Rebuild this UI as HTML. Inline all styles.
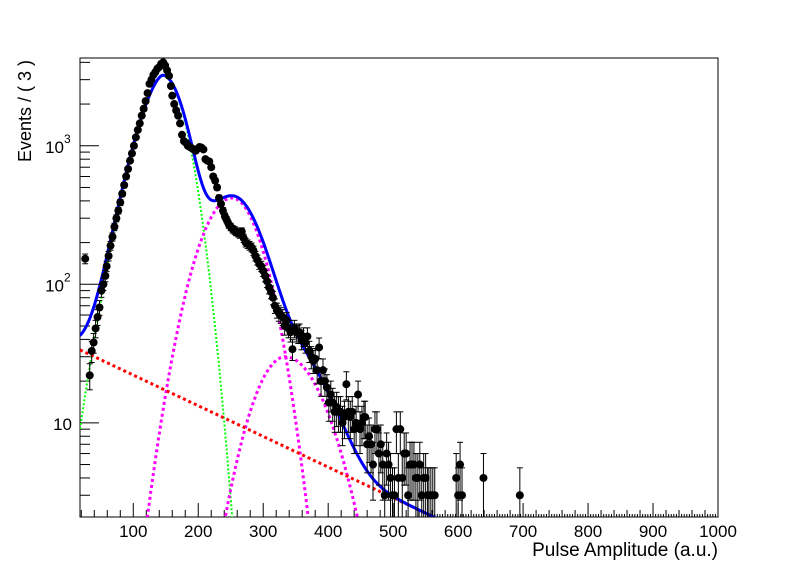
<!DOCTYPE html>
<html><head><meta charset="utf-8"><style>
html,body{margin:0;padding:0;background:#fff;}
svg{display:block;font-family:"Liberation Sans",Arial,sans-serif;}
</style></head><body>
<svg id="chart" width="798" height="576" viewBox="0 0 798 576">
<rect width="798" height="576" fill="#fff"/>
<defs><clipPath id="clip"><rect x="80" y="58" width="638" height="459"/></clipPath></defs>
<g id="frame-g"></g>
<g id="curves" clip-path="url(#clip)"></g>
<g id="points" clip-path="url(#clip)"></g>
<text x="718" y="556" font-size="19" text-anchor="end">Pulse Amplitude (a.u.)</text>
<text transform="translate(31,60) rotate(-90)" font-size="18" text-anchor="end">Events / ( 3 )</text>
</svg>
<script>
const binCenters=[26,33,36,39,42,45,48,51,54,57,
59,62,65,68,71,74,77,80,83,86,89,92,95,98,101,104,107,110,113,116,119,122,125,128,131,134,137,140,143,146,149,152,155,158,
160,163,166,169,172,175,178,181,184,187,190,193,196,199,202,205,208,211,214,217,220,223,226,229,232,235,238,241,244,247,250,253,256,
258,261,264,267,270,273,276,279,282,285,288,291,294,297,300,303,306,309,312,315,318,321,324,327,330,333,336,339,342,345,348,351,354,
356,359,362,365,368,371,374,377,380,383,386,389,392,395,398,401,404,407,410,413,416,419,422,425,428,431,434,437,440,443,446,449,452,455,
457,460,463,466,469,472,475,478,481,484,487,490,493,496,499,502,505,508,511,514,517,520,523,526,529,532,535,538,541,544,547,550,553,
555,558,561,564,597,600,603,606,639,695];
const counts=[153,22,33,38,48,58,68,90,100,115,135,160,190,220,260,300,340,390,450,520,600,680,780,880,1000,1150,1300,1450,1650,1850,2100,2400,2800,3000,3250,3400,3600,3700,3900,4000,3800,3500,3200,2700,2300,2000,1800,1650,1450,1200,1080,1050,1000,980,960,940,920,950,980,970,940,800,780,770,700,600,560,500,420,380,340,310,290,270,260,250,245,240,235,230,240,215,200,195,190,185,175,160,150,140,135,125,115,105,95,88,80,70,65,62,60,58,50,55,48,45,34,48,45,44,45,40,42,38,42,33,30,28,29,24,35,20,24,20,18,14,16,14,12,13,12,12,10,11,19,12,11,12,9,10,16,9,10,11,11,7,8,7,5,9,9,6,7,5,3,6,5,4,3,3,9,4,9,4,6,6,3,5,5,5,4,4,5,3,4,4,3,3,3,3,3,4,3,5,3,4,3];
// main peak: [amplitude, mean, leftCoef, leftPower, sigmaRight]
const greenPars=[3200,145,0.00322,1.55,28];
// secondary peaks: [amplitude, mean, sigmaLeft, sigmaRight]
const mag1Pars=[420,252,40,36];
const mag2Pars=[30,334,40,48];
// background: [amplitude at x0, x0, slope]
const bkgPars=[33.6,18,0.0051];
const xTicks=[100,200,300,400,500,600,700,800,900,1000];
const yTicks=[10,100,1000];
const yTickLabels=["10","10","10"];
const yTickExps=["","2","3"];

const NS="http://www.w3.org/2000/svg";
const X0=80,X1=718,Y0=58,Y1=517;
const xMin=18,xMax=1000;
const yMin=Math.log10(2.09),yMax=Math.log10(4300);
const sx=v=>X0+(v-xMin)/(xMax-xMin)*(X1-X0);
const sy=v=>Y1-(Math.log10(v)-yMin)/(yMax-yMin)*(Y1-Y0);
function mk(tag,attrs,parent){const e=document.createElementNS(NS,tag);for(const k in attrs)e.setAttribute(k,attrs[k]);parent.appendChild(e);return e;}
const fg=document.getElementById('frame-g');
const frame=mk('rect',{x:X0,y:Y0,width:X1-X0,height:Y1-Y0,fill:'none',stroke:'#000','stroke-width':1},fg);


for(let v=20;v<=1000;v+=4){
  let len=0;
  if(v%100===0)len=14;else if(v%20===0)len=7;else if(v>=560)len=3;
  if(!len)continue;
  const t=mk('line',{x1:sx(v),x2:sx(v),y1:Y1,y2:Y1-len,stroke:'#000','stroke-width':1},fg);
  
  
}
xTicks.forEach((v,i)=>{
  const t=mk('text',{x:sx(v),y:537,'font-size':17,'text-anchor':'middle'},fg);
  t.textContent=String(v);
  
  
});
for(let d=1;d<=1000;d*=10){for(let m=1;m<=9;m++){const v=d*m;if(v<2.09||v>4300)continue;
  const len=m===1?19:10;
  const t=mk('line',{x1:X0,x2:X0+len,y1:sy(v),y2:sy(v),stroke:'#000','stroke-width':1},fg);
  
  
}}
yTicks.forEach((v,i)=>{
  const t=mk('text',{x:yTickExps[i]?64:72,y:sy(v)+7,'font-size':17,'text-anchor':'end'},fg);
  t.textContent=yTickLabels[i];
  
  
  if(yTickExps[i]){const s=mk('text',{x:64,y:sy(v)-3,'font-size':12},fg);s.textContent=yTickExps[i];
    
    }
});
function mainPeak(x){const p=greenPars;const dx=x-p[1];
  if(dx<0)return p[0]*Math.exp(-p[2]*Math.pow(-dx,p[3]));
  return p[0]*Math.exp(-dx*dx/(2*p[4]*p[4]));}
function agauss(p,x){const s=x<p[1]?p[2]:p[3];return p[0]*Math.exp(-(x-p[1])*(x-p[1])/(2*s*s));}
function bkg(x){return bkgPars[0]*Math.exp(-bkgPars[2]*(x-bkgPars[1]));}
function total(x){return mainPeak(x)+agauss(mag1Pars,x)+agauss(mag2Pars,x)+bkg(x);}
const cg=document.getElementById('curves');
function curve(f,color,w,dash,name){
  let d='';let started=false;
  for(let x=xMin;x<=xMax;x+=1){const v=f(x);if(v<1.5){started=false;continue;}
    const y=Math.min(sy(v),Y1+20);d+=(started?'L':'M')+sx(x).toFixed(1)+' '+y.toFixed(1);started=true;}
  const p=mk('path',{d:d,fill:'none',stroke:color,'stroke-width':w,'stroke-dasharray':dash},cg);
  
  
}
curve(mainPeak,'#00ff00',2,'2 2','signal-peak-curve');
curve(x=>agauss(mag1Pars,x),'#ff00ff',3,'3 3','second-peak-curve');
curve(x=>agauss(mag2Pars,x),'#ff00ff',3,'3 3','third-peak-curve');
curve(bkg,'#ff0000',3,'3 3','background-curve');
curve(total,'#0000ff',3,'','total-fit-curve');
const pg=document.getElementById('points');
binCenters.forEach((x,i)=>{
  const n=counts[i],e=Math.sqrt(n);
  const g=mk('g',{},pg);
  
  
  const cx=sx(x),cy=sy(n),yt=sy(n+e),yb=n-e>0.5?sy(n-e):Y1+5;
  mk('line',{x1:cx,x2:cx,y1:yt,y2:yb,stroke:'#000','stroke-width':1},g);
  mk('line',{x1:cx-3,x2:cx+3,y1:yt,y2:yt,stroke:'#000','stroke-width':1},g);
  mk('line',{x1:cx-3,x2:cx+3,y1:yb,y2:yb,stroke:'#000','stroke-width':1},g);
  mk('circle',{cx:cx,cy:cy,r:4,fill:'#000'},g);
});
</script>
</body></html>
